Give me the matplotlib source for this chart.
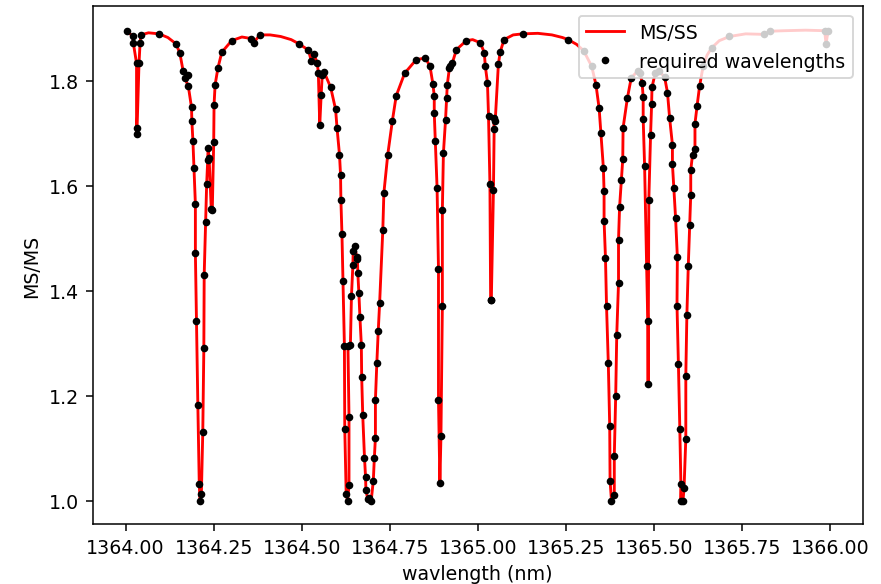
import numpy as np
import matplotlib
matplotlib.use("Agg")
import matplotlib.pyplot as plt

# wavelength (nm), ratio, and whether the point is a "required wavelength" (1) or only on the curve (0)
wl = [1364.003, 1364.020, 1364.022, 1364.031, 1364.031, 1364.032, 1364.038, 1364.041, 1364.043,
      1364.065, 1364.095, 1364.120, 1364.143, 1364.154, 1364.163, 1364.176, 1364.168, 1364.178,
      1364.187, 1364.188, 1364.191, 1364.194, 1364.198, 1364.198, 1364.201, 1364.205, 1364.209,
      1364.211, 1364.215, 1364.219, 1364.222, 1364.223, 1364.227, 1364.230, 1364.233, 1364.234,
      1364.237, 1364.243, 1364.246, 1364.250, 1364.251, 1364.254, 1364.262, 1364.273, 1364.301,
      1364.330, 1364.357, 1364.363, 1364.381, 1364.410, 1364.440, 1364.470, 1364.492, 1364.519,
      1364.527, 1364.534, 1364.544, 1364.547, 1364.551, 1364.555, 1364.558, 1364.563, 1364.582,
      1364.596, 1364.600, 1364.607, 1364.610, 1364.611, 1364.614, 1364.617, 1364.621, 1364.622,
      1364.626, 1364.630, 1364.634, 1364.634, 1364.631, 1364.638, 1364.641, 1364.645, 1364.646,
      1364.650, 1364.656, 1364.658, 1364.659, 1364.662, 1364.665, 1364.669, 1364.670, 1364.673,
      1364.678, 1364.681, 1364.682, 1364.687, 1364.692, 1364.697, 1364.703, 1364.706, 1364.709,
      1364.709, 1364.713, 1364.717, 1364.721, 1364.730, 1364.733, 1364.744, 1364.757, 1364.768,
      1364.792, 1364.825, 1364.851, 1364.864, 1364.872, 1364.876, 1364.876, 1364.879, 1364.884,
      1364.888, 1364.888, 1364.892, 1364.895, 1364.899, 1364.899, 1364.902, 1364.908, 1364.911,
      1364.913, 1364.919, 1364.922, 1364.927, 1364.939, 1364.967, 1364.985, 1365.007, 1365.018,
      1365.021, 1365.027, 1365.030, 1365.034, 1365.036, 1365.038, 1365.044, 1365.046, 1365.045,
      1365.049, 1365.058, 1365.063, 1365.074, 1365.100, 1365.127, 1365.170, 1365.210, 1365.240,
      1365.256, 1365.280, 1365.300, 1365.323, 1365.335, 1365.344, 1365.349, 1365.356, 1365.358,
      1365.358, 1365.362, 1365.365, 1365.370, 1365.374, 1365.375, 1365.379, 1365.387, 1365.387,
      1365.391, 1365.394, 1365.399, 1365.399, 1365.402, 1365.407, 1365.411, 1365.412, 1365.424,
      1365.435, 1365.453, 1365.460, 1365.466, 1365.469, 1365.469, 1365.473, 1365.479, 1365.482,
      1365.483, 1365.485, 1365.490, 1365.493, 1365.494, 1365.503, 1365.514, 1365.530, 1365.538,
      1365.544, 1365.552, 1365.552, 1365.556, 1365.561, 1365.566, 1365.565, 1365.569, 1365.573,
      1365.576, 1365.575, 1365.582, 1365.585, 1365.590, 1365.590, 1365.593, 1365.597, 1365.601,
      1365.604, 1365.604, 1365.609, 1365.616, 1365.616, 1365.622, 1365.629, 1365.639, 1365.650,
      1365.663, 1365.685, 1365.714, 1365.760, 1365.812, 1365.828, 1365.870, 1365.930, 1365.984,
      1365.988, 1365.994]

ratio = [1.894, 1.885, 1.871, 1.833, 1.710, 1.698, 1.833, 1.871, 1.887,
         1.891, 1.889, 1.882, 1.870, 1.852, 1.819, 1.811, 1.805, 1.789,
         1.749, 1.723, 1.685, 1.634, 1.565, 1.471, 1.343, 1.182, 1.032,
         1.000, 1.013, 1.131, 1.291, 1.430, 1.530, 1.603, 1.648, 1.671,
         1.653, 1.556, 1.553, 1.683, 1.754, 1.792, 1.824, 1.854, 1.876,
         1.883, 1.880, 1.872, 1.887, 1.887, 1.884, 1.878, 1.870, 1.858,
         1.837, 1.850, 1.834, 1.814, 1.715, 1.773, 1.810, 1.817, 1.787,
         1.745, 1.710, 1.659, 1.621, 1.573, 1.508, 1.418, 1.294, 1.137,
         1.013, 1.000, 1.029, 1.160, 1.295, 1.297, 1.390, 1.448, 1.475,
         1.485, 1.464, 1.460, 1.434, 1.396, 1.350, 1.297, 1.236, 1.163,
         1.082, 1.045, 1.021, 1.003, 1.005, 1.000, 1.038, 1.082, 1.120,
         1.192, 1.262, 1.323, 1.377, 1.516, 1.586, 1.659, 1.723, 1.771,
         1.814, 1.840, 1.843, 1.827, 1.794, 1.771, 1.738, 1.685, 1.596,
         1.441, 1.192, 1.034, 1.123, 1.370, 1.554, 1.662, 1.725, 1.766,
         1.792, 1.824, 1.828, 1.833, 1.859, 1.876, 1.878, 1.872, 1.853,
         1.827, 1.796, 1.733, 1.603, 1.383, 1.383, 1.592, 1.707, 1.728,
         1.723, 1.831, 1.854, 1.878, 1.887, 1.889, 1.890, 1.887, 1.882,
         1.878, 1.869, 1.857, 1.827, 1.792, 1.747, 1.701, 1.634, 1.589,
         1.533, 1.462, 1.370, 1.262, 1.142, 1.038, 1.000, 1.011, 1.085,
         1.200, 1.316, 1.415, 1.497, 1.559, 1.610, 1.650, 1.710, 1.766,
         1.805, 1.818, 1.814, 1.796, 1.768, 1.727, 1.638, 1.447, 1.342,
         1.222, 1.573, 1.697, 1.756, 1.787, 1.814, 1.819, 1.806, 1.777,
         1.729, 1.678, 1.641, 1.595, 1.538, 1.464, 1.371, 1.260, 1.137,
         1.032, 1.000, 1.000, 1.024, 1.118, 1.238, 1.353, 1.447, 1.525,
         1.583, 1.629, 1.659, 1.670, 1.718, 1.752, 1.789, 1.827, 1.848,
         1.862, 1.876, 1.884, 1.889, 1.888, 1.894, 1.895, 1.896, 1.895,
         1.870, 1.895]

req = [1, 1, 1, 1, 1, 1, 1, 1, 1,
       0, 1, 0, 1, 1, 1, 1, 1, 1,
       1, 1, 1, 1, 1, 1, 1, 1, 1,
       1, 1, 1, 1, 1, 1, 1, 1, 1,
       1, 1, 1, 1, 1, 1, 1, 1, 1,
       0, 1, 1, 1, 0, 0, 0, 1, 1,
       1, 1, 1, 1, 1, 1, 1, 1, 1,
       1, 1, 1, 1, 1, 1, 1, 1, 1,
       1, 1, 1, 1, 1, 1, 1, 1, 1,
       1, 1, 1, 1, 1, 1, 1, 1, 1,
       1, 1, 1, 1, 1, 1, 1, 1, 1,
       1, 1, 1, 1, 1, 1, 1, 1, 1,
       1, 1, 1, 1, 1, 1, 1, 1, 1,
       1, 1, 1, 1, 1, 1, 1, 1, 1,
       1, 1, 1, 1, 1, 1, 0, 1, 1,
       1, 1, 1, 1, 1, 1, 1, 1, 1,
       1, 1, 1, 1, 0, 1, 0, 0, 0,
       1, 0, 1, 1, 1, 1, 1, 1, 1,
       1, 1, 1, 1, 1, 1, 1, 1, 1,
       1, 1, 1, 1, 1, 1, 1, 1, 1,
       1, 1, 1, 1, 1, 1, 1, 1, 1,
       1, 1, 1, 1, 1, 1, 1, 1, 1,
       1, 1, 1, 1, 1, 1, 1, 1, 1,
       1, 1, 1, 1, 1, 1, 1, 1, 1,
       1, 1, 1, 1, 1, 1, 1, 1, 0,
       1, 0, 1, 0, 1, 1, 0, 0, 1,
       1, 1]

wl = np.array(wl)
ratio = np.array(ratio)
req = np.array(req, dtype=bool)

dpi = 137
fig = plt.figure(figsize=(881 / dpi, 585 / dpi), dpi=dpi)
ax = fig.add_axes([0.1052, 0.102, 0.874, 0.886])

ax.plot(wl, ratio, c="red", label="MS/SS")
ax.plot(wl[req], ratio[req], "k.", label="required wavelengths")

ax.set_xlim(1363.9065, 1366.092)
ax.set_ylim(0.955, 1.942)
ax.set_xticks(np.arange(1364.0, 1366.01, 0.25))
ax.set_xlabel("wavlength (nm)")
ax.set_ylabel("MS/MS")
ax.legend(loc="upper right")

fig.savefig("out.png", dpi=dpi)
